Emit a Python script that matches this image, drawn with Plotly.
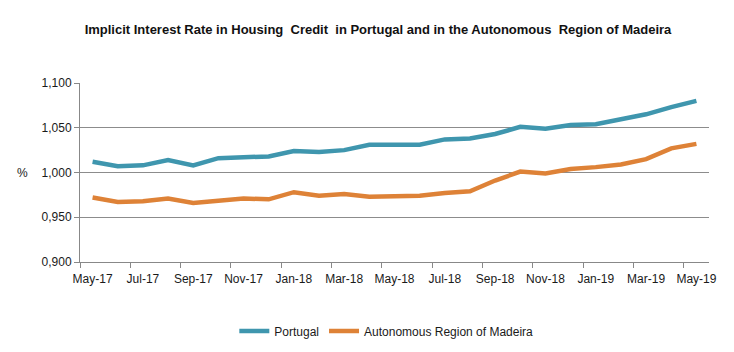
import plotly.graph_objects as go

months = ["May-17", "Jun-17", "Jul-17", "Aug-17", "Sep-17", "Oct-17", "Nov-17", "Dec-17",
          "Jan-18", "Feb-18", "Mar-18", "Apr-18", "May-18", "Jun-18", "Jul-18", "Aug-18",
          "Sep-18", "Oct-18", "Nov-18", "Dec-18", "Jan-19", "Feb-19", "Mar-19", "Apr-19", "May-19"]

portugal = [1.012, 1.007, 1.008, 1.014, 1.008, 1.016, 1.017, 1.018, 1.024, 1.023, 1.025, 1.031, 1.031,
            1.031, 1.037, 1.038, 1.043, 1.051, 1.049, 1.053, 1.054, 1.060, 1.065, 1.073, 1.080]

madeira = [0.972, 0.967, 0.968, 0.971, 0.966, 0.969, 0.971, 0.970, 0.978, 0.974, 0.976, 0.973, 0.973,
           0.974, 0.977, 0.979, 0.991, 1.001, 0.999, 1.004, 1.006, 1.009, 1.015, 1.027, 1.032]

series_names = ["Portugal", "Autonomous Region of Madeira"]
colors = ["#3F96AE", "#DE8237"]

x_idx = list(range(len(months)))

fig = go.Figure()
for name, vals, col in zip(series_names, [portugal, madeira], colors):
    fig.add_trace(go.Scatter(x=x_idx, y=vals, mode="lines", name=name,
                             line=dict(color=col, width=4.5)))

label_idx = x_idx[::2]
bounds = [i - 0.5 for i in x_idx[::2]]

fig.update_layout(
    width=734, height=352,
    margin=dict(l=80, r=25, t=83, b=90),
    paper_bgcolor="white", plot_bgcolor="white",
    separators=",.",
    font=dict(family="Arial, Liberation Sans, sans-serif", size=12, color="#1a1a1a"),
    title=dict(text="<b>Implicit Interest Rate in Housing  Credit  in Portugal and in the Autonomous  Region of Madeira</b>",
               x=0.515, xanchor="center", y=0.915, yanchor="middle",
               font=dict(family="Arial, Liberation Sans", size=13, color="#111")),
    showlegend=True,
    legend=dict(orientation="h", x=0.487, xanchor="center", yref="container", y=0.06,
                yanchor="middle", font=dict(size=12), itemwidth=30, tracegroupgap=0),
    xaxis=dict(range=[-0.5, len(months) - 0.5], tickmode="array", tickvals=label_idx,
               ticktext=[months[i] for i in label_idx], ticks="", showgrid=False,
               showline=True, linecolor="#888", linewidth=1, zeroline=False,
               ticklabelstandoff=6,
               minor=dict(tickmode="array", tickvals=bounds, ticks="outside", ticklen=5,
                          tickcolor="#888", showgrid=False)),
    yaxis=dict(range=[0.9, 1.1], dtick=0.05, tick0=0.9, tickformat=".3f",
               showgrid=True, gridcolor="#8c8c8c", gridwidth=1,
               showline=True, linecolor="#888", linewidth=1, zeroline=False,
               ticks="outside", ticklen=5, tickcolor="#888"),
    annotations=[dict(text="%", xref="paper", yref="paper", x=-0.092, y=0.5,
                      xanchor="center", yanchor="middle", showarrow=False,
                      font=dict(size=12, color="#1a1a1a"))],
)

fig.write_html("out.html")
